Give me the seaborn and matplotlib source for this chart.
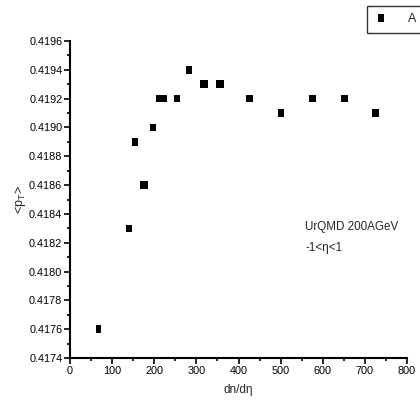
import matplotlib
matplotlib.use("Agg")
import matplotlib.pyplot as plt
from matplotlib.ticker import MultipleLocator, FormatStrFormatter
import seaborn as sns
import pandas as pd

# UrQMD mean transverse momentum versus charged multiplicity
dn_deta = [68, 140, 154, 173, 179, 197, 211, 224, 254, 283,
           316, 321, 354, 359, 425, 429, 501, 573, 577, 649, 653, 724, 728]
mean_pt = [0.4176, 0.4183, 0.4189, 0.4186, 0.4186, 0.4190, 0.4192, 0.4192, 0.4192, 0.4194,
           0.4193, 0.4193, 0.4193, 0.4193, 0.4192, 0.4192, 0.4191, 0.4192, 0.4192, 0.4192, 0.4192, 0.4191, 0.4191]
series_name = "A"

df = pd.DataFrame({"x": dn_deta, "y": mean_pt, "s": series_name})

sns.set_style("ticks")
plt.rcParams["font.family"] = ["Liberation Sans", "DejaVu Sans"]
plt.rcParams["mathtext.fontset"] = "custom"
plt.rcParams["mathtext.rm"] = "Liberation Sans"

fig = plt.figure(figsize=(4.2, 4.08), dpi=100)
ax = fig.add_axes([70 / 420, 1 - 358 / 408, 337 / 420, 317 / 408])

rect = [(-0.36, -0.5), (0.36, -0.5), (0.36, 0.5), (-0.36, 0.5)]
sns.scatterplot(data=df, x="x", y="y", hue="s", palette=["black"], marker=rect,
                s=30, edgecolor="black", linewidth=0, ax=ax, legend=True)

ax.set_xlim(0, 800)
ax.set_ylim(0.4174, 0.4196)
ax.xaxis.set_major_locator(MultipleLocator(100))
ax.xaxis.set_minor_locator(MultipleLocator(50))
ax.yaxis.set_major_locator(MultipleLocator(0.0002))
ax.yaxis.set_minor_locator(MultipleLocator(0.0001))
ax.yaxis.set_major_formatter(FormatStrFormatter("%.4f"))

for side in ("top", "right"):
    ax.spines[side].set_visible(False)
for side in ("left", "bottom"):
    ax.spines[side].set_linewidth(1.5)
    ax.spines[side].set_color("black")

ax.tick_params(which="major", direction="out", length=4, width=1.2, labelsize=7.8, pad=1.5, colors="black")
ax.tick_params(which="minor", direction="out", length=2.5, width=1.2, colors="black")

ax.set_xlabel("dn/dη", fontsize=8.5, labelpad=6)
ax.set_ylabel(r"<p$_\mathregular{T}$>", fontsize=9, labelpad=1)

ax.text(305 / 420, 1 - 227 / 408, "UrQMD 200AGeV", transform=fig.transFigure,
        fontsize=8.4, va="center", ha="left")
ax.text(305 / 420, 1 - 248 / 408, "-1<η<1", transform=fig.transFigure,
        fontsize=8.4, va="center", ha="left")

leg = ax.legend(loc="upper left", bbox_to_anchor=(367 / 420, 1 - 6 / 408),
                bbox_transform=fig.transFigure, frameon=True, fancybox=False,
                fontsize=9, handlelength=1.0, handletextpad=1.7, borderpad=0.6,
                borderaxespad=0, markerscale=1.15)
leg.get_frame().set_edgecolor("black")
leg.get_frame().set_linewidth(1.0)

fig.savefig("out.png", dpi=100)
